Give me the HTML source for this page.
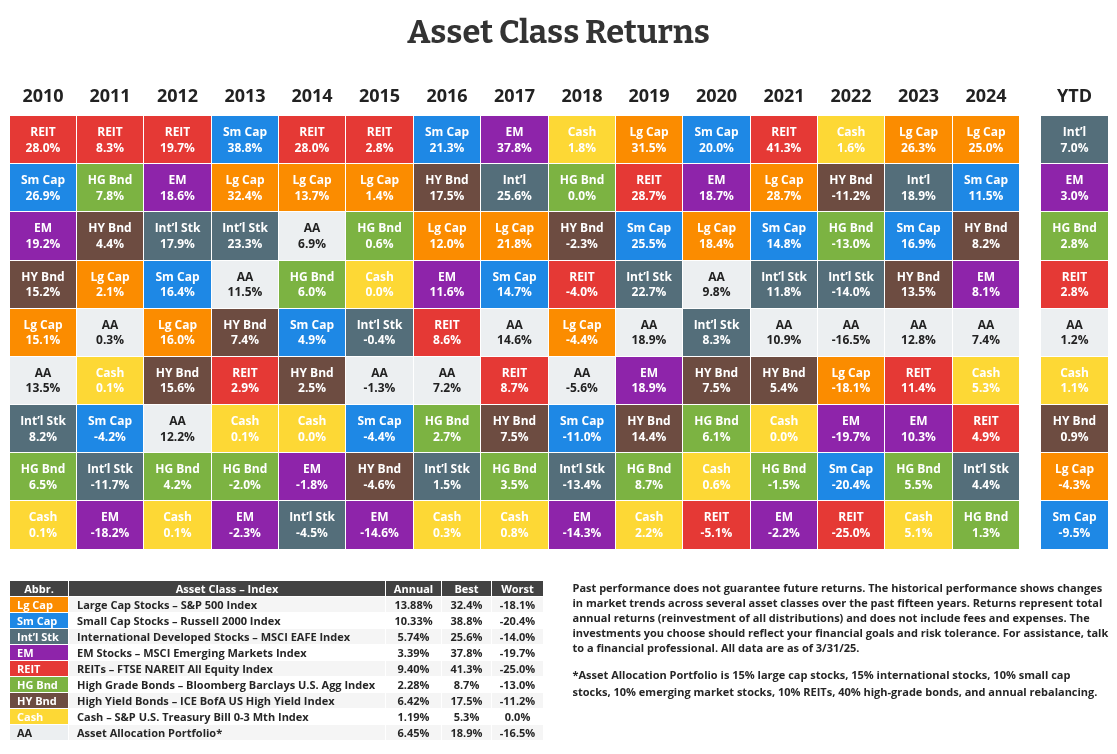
<!DOCTYPE html>
<html><head><meta charset="utf-8"><title>Asset Class Returns</title>
<style>
html,body{margin:0;padding:0;background:#fff}
body{width:1117px;height:754px;position:relative;overflow:hidden;font-family:"Open Sans","Liberation Sans",sans-serif}
h1{position:absolute;left:0;width:1117px;top:17px;margin:0;text-align:center;font:700 32.6px/1 "Bitter","Liberation Serif","DejaVu Serif",serif;color:#333333;letter-spacing:0px}
.yr{position:absolute;top:83px;height:24px;line-height:24px;text-align:center;font-weight:700;font-size:18px;color:#222222}
.c{position:absolute;display:flex;flex-direction:column;justify-content:center;align-items:center;text-align:center;font-weight:700;font-size:12px;line-height:16px;color:#fff;white-space:nowrap}
.c span{display:block}
.c .v{font-weight:700}
.c.u .v{position:relative;top:-1px}
.re{background:#e53935}.sm{background:#1e88e5}.em{background:#8e24aa}.lg{background:#fb8c00}.hg{background:#7cb342}.hy{background:#6d4c41}.in{background:#546e7a}.ca{background:#fdd835}.aa{background:#eceff1;color:#222222}

table.leg{position:absolute;left:10px;top:581px;border-collapse:separate;border-spacing:0;font-size:11px;color:#262626;font-weight:700}
table.leg td,table.leg th{padding:0;height:15px;line-height:15px;white-space:nowrap;border-right:1px solid #fff;border-bottom:1px solid #fff}
table.leg th{background:#424242;color:#fff;font-weight:700;text-align:center}
table.leg td.ab{padding-left:7px;font-weight:700;color:#fff}
table.leg td.ab.aa{color:#222222}
table.leg td.nm{padding-left:8px}
table.leg td.n{text-align:center}
table.leg tr.g td.nm,table.leg tr.g td.n{background:#f5f5f5}
.note{position:absolute;left:572.5px;top:580px;width:560px;font-size:11px;font-weight:700;color:#262626;white-space:nowrap}
.note p{margin:0}
.note p.p1{line-height:15px}
.note p.p2{line-height:17px;margin-top:11px}
</style></head><body>
<h1>Asset Class Returns</h1>
<div class="yr" style="left:10px;width:66px">2010</div>
<div class="yr" style="left:77px;width:66px">2011</div>
<div class="yr" style="left:144px;width:67px">2012</div>
<div class="yr" style="left:212px;width:66px">2013</div>
<div class="yr" style="left:279px;width:66px">2014</div>
<div class="yr" style="left:346px;width:67px">2015</div>
<div class="yr" style="left:414px;width:66px">2016</div>
<div class="yr" style="left:481px;width:67px">2017</div>
<div class="yr" style="left:549px;width:66px">2018</div>
<div class="yr" style="left:616px;width:66px">2019</div>
<div class="yr" style="left:683px;width:67px">2020</div>
<div class="yr" style="left:751px;width:66px">2021</div>
<div class="yr" style="left:818px;width:66px">2022</div>
<div class="yr" style="left:885px;width:67px">2023</div>
<div class="yr" style="left:953px;width:66px">2024</div>
<div class="yr" style="left:1041px;width:67px">YTD</div>
<div class="c re" style="left:10px;top:116px;width:66px;height:47px"><span>REIT</span><span class="v">28.0%</span></div>
<div class="c re" style="left:77px;top:116px;width:66px;height:47px"><span>REIT</span><span class="v">8.3%</span></div>
<div class="c re" style="left:144px;top:116px;width:67px;height:47px"><span>REIT</span><span class="v">19.7%</span></div>
<div class="c sm" style="left:212px;top:116px;width:66px;height:47px"><span>Sm Cap</span><span class="v">38.8%</span></div>
<div class="c re" style="left:279px;top:116px;width:66px;height:47px"><span>REIT</span><span class="v">28.0%</span></div>
<div class="c re" style="left:346px;top:116px;width:67px;height:47px"><span>REIT</span><span class="v">2.8%</span></div>
<div class="c sm" style="left:414px;top:116px;width:66px;height:47px"><span>Sm Cap</span><span class="v">21.3%</span></div>
<div class="c em" style="left:481px;top:116px;width:67px;height:47px"><span>EM</span><span class="v">37.8%</span></div>
<div class="c ca" style="left:549px;top:116px;width:66px;height:47px"><span>Cash</span><span class="v">1.8%</span></div>
<div class="c lg" style="left:616px;top:116px;width:66px;height:47px"><span>Lg Cap</span><span class="v">31.5%</span></div>
<div class="c sm" style="left:683px;top:116px;width:67px;height:47px"><span>Sm Cap</span><span class="v">20.0%</span></div>
<div class="c re" style="left:751px;top:116px;width:66px;height:47px"><span>REIT</span><span class="v">41.3%</span></div>
<div class="c ca" style="left:818px;top:116px;width:66px;height:47px"><span>Cash</span><span class="v">1.6%</span></div>
<div class="c lg" style="left:885px;top:116px;width:67px;height:47px"><span>Lg Cap</span><span class="v">26.3%</span></div>
<div class="c lg" style="left:953px;top:116px;width:66px;height:47px"><span>Lg Cap</span><span class="v">25.0%</span></div>
<div class="c in" style="left:1041px;top:116px;width:67px;height:47px"><span>Int’l</span><span class="v">7.0%</span></div>
<div class="c sm" style="left:10px;top:164px;width:66px;height:47px"><span>Sm Cap</span><span class="v">26.9%</span></div>
<div class="c hg" style="left:77px;top:164px;width:66px;height:47px"><span>HG Bnd</span><span class="v">7.8%</span></div>
<div class="c em" style="left:144px;top:164px;width:67px;height:47px"><span>EM</span><span class="v">18.6%</span></div>
<div class="c lg" style="left:212px;top:164px;width:66px;height:47px"><span>Lg Cap</span><span class="v">32.4%</span></div>
<div class="c lg" style="left:279px;top:164px;width:66px;height:47px"><span>Lg Cap</span><span class="v">13.7%</span></div>
<div class="c lg" style="left:346px;top:164px;width:67px;height:47px"><span>Lg Cap</span><span class="v">1.4%</span></div>
<div class="c hy" style="left:414px;top:164px;width:66px;height:47px"><span>HY Bnd</span><span class="v">17.5%</span></div>
<div class="c in" style="left:481px;top:164px;width:67px;height:47px"><span>Int’l</span><span class="v">25.6%</span></div>
<div class="c hg" style="left:549px;top:164px;width:66px;height:47px"><span>HG Bnd</span><span class="v">0.0%</span></div>
<div class="c re" style="left:616px;top:164px;width:66px;height:47px"><span>REIT</span><span class="v">28.7%</span></div>
<div class="c em" style="left:683px;top:164px;width:67px;height:47px"><span>EM</span><span class="v">18.7%</span></div>
<div class="c lg" style="left:751px;top:164px;width:66px;height:47px"><span>Lg Cap</span><span class="v">28.7%</span></div>
<div class="c hy" style="left:818px;top:164px;width:66px;height:47px"><span>HY Bnd</span><span class="v">-11.2%</span></div>
<div class="c in" style="left:885px;top:164px;width:67px;height:47px"><span>Int’l</span><span class="v">18.9%</span></div>
<div class="c sm" style="left:953px;top:164px;width:66px;height:47px"><span>Sm Cap</span><span class="v">11.5%</span></div>
<div class="c em" style="left:1041px;top:164px;width:67px;height:47px"><span>EM</span><span class="v">3.0%</span></div>
<div class="c em" style="left:10px;top:212px;width:66px;height:48px"><span>EM</span><span class="v">19.2%</span></div>
<div class="c hy" style="left:77px;top:212px;width:66px;height:48px"><span>HY Bnd</span><span class="v">4.4%</span></div>
<div class="c in" style="left:144px;top:212px;width:67px;height:48px"><span>Int’l Stk</span><span class="v">17.9%</span></div>
<div class="c in" style="left:212px;top:212px;width:66px;height:48px"><span>Int’l Stk</span><span class="v">23.3%</span></div>
<div class="c aa" style="left:279px;top:212px;width:66px;height:48px"><span>AA</span><span class="v">6.9%</span></div>
<div class="c hg" style="left:346px;top:212px;width:67px;height:48px"><span>HG Bnd</span><span class="v">0.6%</span></div>
<div class="c lg" style="left:414px;top:212px;width:66px;height:48px"><span>Lg Cap</span><span class="v">12.0%</span></div>
<div class="c lg" style="left:481px;top:212px;width:67px;height:48px"><span>Lg Cap</span><span class="v">21.8%</span></div>
<div class="c hy" style="left:549px;top:212px;width:66px;height:48px"><span>HY Bnd</span><span class="v">-2.3%</span></div>
<div class="c sm" style="left:616px;top:212px;width:66px;height:48px"><span>Sm Cap</span><span class="v">25.5%</span></div>
<div class="c lg" style="left:683px;top:212px;width:67px;height:48px"><span>Lg Cap</span><span class="v">18.4%</span></div>
<div class="c sm" style="left:751px;top:212px;width:66px;height:48px"><span>Sm Cap</span><span class="v">14.8%</span></div>
<div class="c hg" style="left:818px;top:212px;width:66px;height:48px"><span>HG Bnd</span><span class="v">-13.0%</span></div>
<div class="c sm" style="left:885px;top:212px;width:67px;height:48px"><span>Sm Cap</span><span class="v">16.9%</span></div>
<div class="c hy" style="left:953px;top:212px;width:66px;height:48px"><span>HY Bnd</span><span class="v">8.2%</span></div>
<div class="c hg" style="left:1041px;top:212px;width:67px;height:48px"><span>HG Bnd</span><span class="v">2.8%</span></div>
<div class="c hy u" style="left:10px;top:261px;width:66px;height:47px"><span>HY Bnd</span><span class="v">15.2%</span></div>
<div class="c lg u" style="left:77px;top:261px;width:66px;height:47px"><span>Lg Cap</span><span class="v">2.1%</span></div>
<div class="c sm u" style="left:144px;top:261px;width:67px;height:47px"><span>Sm Cap</span><span class="v">16.4%</span></div>
<div class="c aa u" style="left:212px;top:261px;width:66px;height:47px"><span>AA</span><span class="v">11.5%</span></div>
<div class="c hg u" style="left:279px;top:261px;width:66px;height:47px"><span>HG Bnd</span><span class="v">6.0%</span></div>
<div class="c ca u" style="left:346px;top:261px;width:67px;height:47px"><span>Cash</span><span class="v">0.0%</span></div>
<div class="c em u" style="left:414px;top:261px;width:66px;height:47px"><span>EM</span><span class="v">11.6%</span></div>
<div class="c sm u" style="left:481px;top:261px;width:67px;height:47px"><span>Sm Cap</span><span class="v">14.7%</span></div>
<div class="c re u" style="left:549px;top:261px;width:66px;height:47px"><span>REIT</span><span class="v">-4.0%</span></div>
<div class="c in u" style="left:616px;top:261px;width:66px;height:47px"><span>Int’l Stk</span><span class="v">22.7%</span></div>
<div class="c aa u" style="left:683px;top:261px;width:67px;height:47px"><span>AA</span><span class="v">9.8%</span></div>
<div class="c in u" style="left:751px;top:261px;width:66px;height:47px"><span>Int’l Stk</span><span class="v">11.8%</span></div>
<div class="c in u" style="left:818px;top:261px;width:66px;height:47px"><span>Int’l Stk</span><span class="v">-14.0%</span></div>
<div class="c hy u" style="left:885px;top:261px;width:67px;height:47px"><span>HY Bnd</span><span class="v">13.5%</span></div>
<div class="c em u" style="left:953px;top:261px;width:66px;height:47px"><span>EM</span><span class="v">8.1%</span></div>
<div class="c re u" style="left:1041px;top:261px;width:67px;height:47px"><span>REIT</span><span class="v">2.8%</span></div>
<div class="c lg u" style="left:10px;top:309px;width:66px;height:47px"><span>Lg Cap</span><span class="v">15.1%</span></div>
<div class="c aa u" style="left:77px;top:309px;width:66px;height:47px"><span>AA</span><span class="v">0.3%</span></div>
<div class="c lg u" style="left:144px;top:309px;width:67px;height:47px"><span>Lg Cap</span><span class="v">16.0%</span></div>
<div class="c hy u" style="left:212px;top:309px;width:66px;height:47px"><span>HY Bnd</span><span class="v">7.4%</span></div>
<div class="c sm u" style="left:279px;top:309px;width:66px;height:47px"><span>Sm Cap</span><span class="v">4.9%</span></div>
<div class="c in u" style="left:346px;top:309px;width:67px;height:47px"><span>Int’l Stk</span><span class="v">-0.4%</span></div>
<div class="c re u" style="left:414px;top:309px;width:66px;height:47px"><span>REIT</span><span class="v">8.6%</span></div>
<div class="c aa u" style="left:481px;top:309px;width:67px;height:47px"><span>AA</span><span class="v">14.6%</span></div>
<div class="c lg u" style="left:549px;top:309px;width:66px;height:47px"><span>Lg Cap</span><span class="v">-4.4%</span></div>
<div class="c aa u" style="left:616px;top:309px;width:66px;height:47px"><span>AA</span><span class="v">18.9%</span></div>
<div class="c in u" style="left:683px;top:309px;width:67px;height:47px"><span>Int’l Stk</span><span class="v">8.3%</span></div>
<div class="c aa u" style="left:751px;top:309px;width:66px;height:47px"><span>AA</span><span class="v">10.9%</span></div>
<div class="c aa u" style="left:818px;top:309px;width:66px;height:47px"><span>AA</span><span class="v">-16.5%</span></div>
<div class="c aa u" style="left:885px;top:309px;width:67px;height:47px"><span>AA</span><span class="v">12.8%</span></div>
<div class="c aa u" style="left:953px;top:309px;width:66px;height:47px"><span>AA</span><span class="v">7.4%</span></div>
<div class="c aa u" style="left:1041px;top:309px;width:67px;height:47px"><span>AA</span><span class="v">1.2%</span></div>
<div class="c aa u" style="left:10px;top:357px;width:66px;height:47px"><span>AA</span><span class="v">13.5%</span></div>
<div class="c ca u" style="left:77px;top:357px;width:66px;height:47px"><span>Cash</span><span class="v">0.1%</span></div>
<div class="c hy u" style="left:144px;top:357px;width:67px;height:47px"><span>HY Bnd</span><span class="v">15.6%</span></div>
<div class="c re u" style="left:212px;top:357px;width:66px;height:47px"><span>REIT</span><span class="v">2.9%</span></div>
<div class="c hy u" style="left:279px;top:357px;width:66px;height:47px"><span>HY Bnd</span><span class="v">2.5%</span></div>
<div class="c aa u" style="left:346px;top:357px;width:67px;height:47px"><span>AA</span><span class="v">-1.3%</span></div>
<div class="c aa u" style="left:414px;top:357px;width:66px;height:47px"><span>AA</span><span class="v">7.2%</span></div>
<div class="c re u" style="left:481px;top:357px;width:67px;height:47px"><span>REIT</span><span class="v">8.7%</span></div>
<div class="c aa u" style="left:549px;top:357px;width:66px;height:47px"><span>AA</span><span class="v">-5.6%</span></div>
<div class="c em u" style="left:616px;top:357px;width:66px;height:47px"><span>EM</span><span class="v">18.9%</span></div>
<div class="c hy u" style="left:683px;top:357px;width:67px;height:47px"><span>HY Bnd</span><span class="v">7.5%</span></div>
<div class="c hy u" style="left:751px;top:357px;width:66px;height:47px"><span>HY Bnd</span><span class="v">5.4%</span></div>
<div class="c lg u" style="left:818px;top:357px;width:66px;height:47px"><span>Lg Cap</span><span class="v">-18.1%</span></div>
<div class="c re u" style="left:885px;top:357px;width:67px;height:47px"><span>REIT</span><span class="v">11.4%</span></div>
<div class="c ca u" style="left:953px;top:357px;width:66px;height:47px"><span>Cash</span><span class="v">5.3%</span></div>
<div class="c ca u" style="left:1041px;top:357px;width:67px;height:47px"><span>Cash</span><span class="v">1.1%</span></div>
<div class="c in" style="left:10px;top:405px;width:66px;height:47px"><span>Int’l Stk</span><span class="v">8.2%</span></div>
<div class="c sm" style="left:77px;top:405px;width:66px;height:47px"><span>Sm Cap</span><span class="v">-4.2%</span></div>
<div class="c aa" style="left:144px;top:405px;width:67px;height:47px"><span>AA</span><span class="v">12.2%</span></div>
<div class="c ca" style="left:212px;top:405px;width:66px;height:47px"><span>Cash</span><span class="v">0.1%</span></div>
<div class="c ca" style="left:279px;top:405px;width:66px;height:47px"><span>Cash</span><span class="v">0.0%</span></div>
<div class="c sm" style="left:346px;top:405px;width:67px;height:47px"><span>Sm Cap</span><span class="v">-4.4%</span></div>
<div class="c hg" style="left:414px;top:405px;width:66px;height:47px"><span>HG Bnd</span><span class="v">2.7%</span></div>
<div class="c hy" style="left:481px;top:405px;width:67px;height:47px"><span>HY Bnd</span><span class="v">7.5%</span></div>
<div class="c sm" style="left:549px;top:405px;width:66px;height:47px"><span>Sm Cap</span><span class="v">-11.0%</span></div>
<div class="c hy" style="left:616px;top:405px;width:66px;height:47px"><span>HY Bnd</span><span class="v">14.4%</span></div>
<div class="c hg" style="left:683px;top:405px;width:67px;height:47px"><span>HG Bnd</span><span class="v">6.1%</span></div>
<div class="c ca" style="left:751px;top:405px;width:66px;height:47px"><span>Cash</span><span class="v">0.0%</span></div>
<div class="c em" style="left:818px;top:405px;width:66px;height:47px"><span>EM</span><span class="v">-19.7%</span></div>
<div class="c em" style="left:885px;top:405px;width:67px;height:47px"><span>EM</span><span class="v">10.3%</span></div>
<div class="c re" style="left:953px;top:405px;width:66px;height:47px"><span>REIT</span><span class="v">4.9%</span></div>
<div class="c hy" style="left:1041px;top:405px;width:67px;height:47px"><span>HY Bnd</span><span class="v">0.9%</span></div>
<div class="c hg" style="left:10px;top:453px;width:66px;height:47px"><span>HG Bnd</span><span class="v">6.5%</span></div>
<div class="c in" style="left:77px;top:453px;width:66px;height:47px"><span>Int’l Stk</span><span class="v">-11.7%</span></div>
<div class="c hg" style="left:144px;top:453px;width:67px;height:47px"><span>HG Bnd</span><span class="v">4.2%</span></div>
<div class="c hg" style="left:212px;top:453px;width:66px;height:47px"><span>HG Bnd</span><span class="v">-2.0%</span></div>
<div class="c em" style="left:279px;top:453px;width:66px;height:47px"><span>EM</span><span class="v">-1.8%</span></div>
<div class="c hy" style="left:346px;top:453px;width:67px;height:47px"><span>HY Bnd</span><span class="v">-4.6%</span></div>
<div class="c in" style="left:414px;top:453px;width:66px;height:47px"><span>Int’l Stk</span><span class="v">1.5%</span></div>
<div class="c hg" style="left:481px;top:453px;width:67px;height:47px"><span>HG Bnd</span><span class="v">3.5%</span></div>
<div class="c in" style="left:549px;top:453px;width:66px;height:47px"><span>Int’l Stk</span><span class="v">-13.4%</span></div>
<div class="c hg" style="left:616px;top:453px;width:66px;height:47px"><span>HG Bnd</span><span class="v">8.7%</span></div>
<div class="c ca" style="left:683px;top:453px;width:67px;height:47px"><span>Cash</span><span class="v">0.6%</span></div>
<div class="c hg" style="left:751px;top:453px;width:66px;height:47px"><span>HG Bnd</span><span class="v">-1.5%</span></div>
<div class="c sm" style="left:818px;top:453px;width:66px;height:47px"><span>Sm Cap</span><span class="v">-20.4%</span></div>
<div class="c hg" style="left:885px;top:453px;width:67px;height:47px"><span>HG Bnd</span><span class="v">5.5%</span></div>
<div class="c in" style="left:953px;top:453px;width:66px;height:47px"><span>Int’l Stk</span><span class="v">4.4%</span></div>
<div class="c lg" style="left:1041px;top:453px;width:67px;height:47px"><span>Lg Cap</span><span class="v">-4.3%</span></div>
<div class="c ca" style="left:10px;top:501px;width:66px;height:48px"><span>Cash</span><span class="v">0.1%</span></div>
<div class="c em" style="left:77px;top:501px;width:66px;height:48px"><span>EM</span><span class="v">-18.2%</span></div>
<div class="c ca" style="left:144px;top:501px;width:67px;height:48px"><span>Cash</span><span class="v">0.1%</span></div>
<div class="c em" style="left:212px;top:501px;width:66px;height:48px"><span>EM</span><span class="v">-2.3%</span></div>
<div class="c in" style="left:279px;top:501px;width:66px;height:48px"><span>Int’l Stk</span><span class="v">-4.5%</span></div>
<div class="c em" style="left:346px;top:501px;width:67px;height:48px"><span>EM</span><span class="v">-14.6%</span></div>
<div class="c ca" style="left:414px;top:501px;width:66px;height:48px"><span>Cash</span><span class="v">0.3%</span></div>
<div class="c ca" style="left:481px;top:501px;width:67px;height:48px"><span>Cash</span><span class="v">0.8%</span></div>
<div class="c em" style="left:549px;top:501px;width:66px;height:48px"><span>EM</span><span class="v">-14.3%</span></div>
<div class="c ca" style="left:616px;top:501px;width:66px;height:48px"><span>Cash</span><span class="v">2.2%</span></div>
<div class="c re" style="left:683px;top:501px;width:67px;height:48px"><span>REIT</span><span class="v">-5.1%</span></div>
<div class="c em" style="left:751px;top:501px;width:66px;height:48px"><span>EM</span><span class="v">-2.2%</span></div>
<div class="c re" style="left:818px;top:501px;width:66px;height:48px"><span>REIT</span><span class="v">-25.0%</span></div>
<div class="c ca" style="left:885px;top:501px;width:67px;height:48px"><span>Cash</span><span class="v">5.1%</span></div>
<div class="c hg" style="left:953px;top:501px;width:66px;height:48px"><span>HG Bnd</span><span class="v">1.3%</span></div>
<div class="c sm" style="left:1041px;top:501px;width:67px;height:48px"><span>Sm Cap</span><span class="v">-9.5%</span></div>
<table class="leg"><colgroup><col style="width:59px"><col style="width:317px"><col style="width:56px"><col style="width:50px"><col style="width:52px"></colgroup>
<tr><th>Abbr.</th><th>Asset Class – Index</th><th>Annual</th><th>Best</th><th>Worst</th></tr>
<tr class="g"><td class="ab lg">Lg Cap</td><td class="nm">Large Cap Stocks – S&amp;P 500 Index</td><td class="n">13.88%</td><td class="n">32.4%</td><td class="n">-18.1%</td></tr>
<tr><td class="ab sm">Sm Cap</td><td class="nm">Small Cap Stocks – Russell 2000 Index</td><td class="n">10.33%</td><td class="n">38.8%</td><td class="n">-20.4%</td></tr>
<tr class="g"><td class="ab in">Int’l Stk</td><td class="nm">International Developed Stocks – MSCI EAFE Index</td><td class="n">5.74%</td><td class="n">25.6%</td><td class="n">-14.0%</td></tr>
<tr><td class="ab em">EM</td><td class="nm">EM Stocks – MSCI Emerging Markets Index</td><td class="n">3.39%</td><td class="n">37.8%</td><td class="n">-19.7%</td></tr>
<tr class="g"><td class="ab re">REIT</td><td class="nm">REITs – FTSE NAREIT All Equity Index</td><td class="n">9.40%</td><td class="n">41.3%</td><td class="n">-25.0%</td></tr>
<tr><td class="ab hg">HG Bnd</td><td class="nm">High Grade Bonds – Bloomberg Barclays U.S. Agg Index</td><td class="n">2.28%</td><td class="n">8.7%</td><td class="n">-13.0%</td></tr>
<tr class="g"><td class="ab hy">HY Bnd</td><td class="nm">High Yield Bonds – ICE BofA US High Yield Index</td><td class="n">6.42%</td><td class="n">17.5%</td><td class="n">-11.2%</td></tr>
<tr><td class="ab ca">Cash</td><td class="nm">Cash – S&amp;P U.S. Treasury Bill 0-3 Mth Index</td><td class="n">1.19%</td><td class="n">5.3%</td><td class="n">0.0%</td></tr>
<tr class="g"><td class="ab aa">AA</td><td class="nm">Asset Allocation Portfolio*</td><td class="n">6.45%</td><td class="n">18.9%</td><td class="n">-16.5%</td></tr>
</table>
<div class="note"><p class="p1">Past performance does not guarantee future returns. The historical performance shows changes<br>in market trends across several asset classes over the past fifteen years. Returns represent total<br>annual returns (reinvestment of all distributions) and does not include fees and expenses. The<br>investments you choose should reflect your financial goals and risk tolerance. For assistance, talk<br>to a financial professional. All data are as of 3/31/25.</p>
<p class="p2">*Asset Allocation Portfolio is 15% large cap stocks, 15% international stocks, 10% small cap<br>stocks, 10% emerging market stocks, 10% REITs, 40% high-grade bonds, and annual rebalancing.</p></div>
</body></html>
